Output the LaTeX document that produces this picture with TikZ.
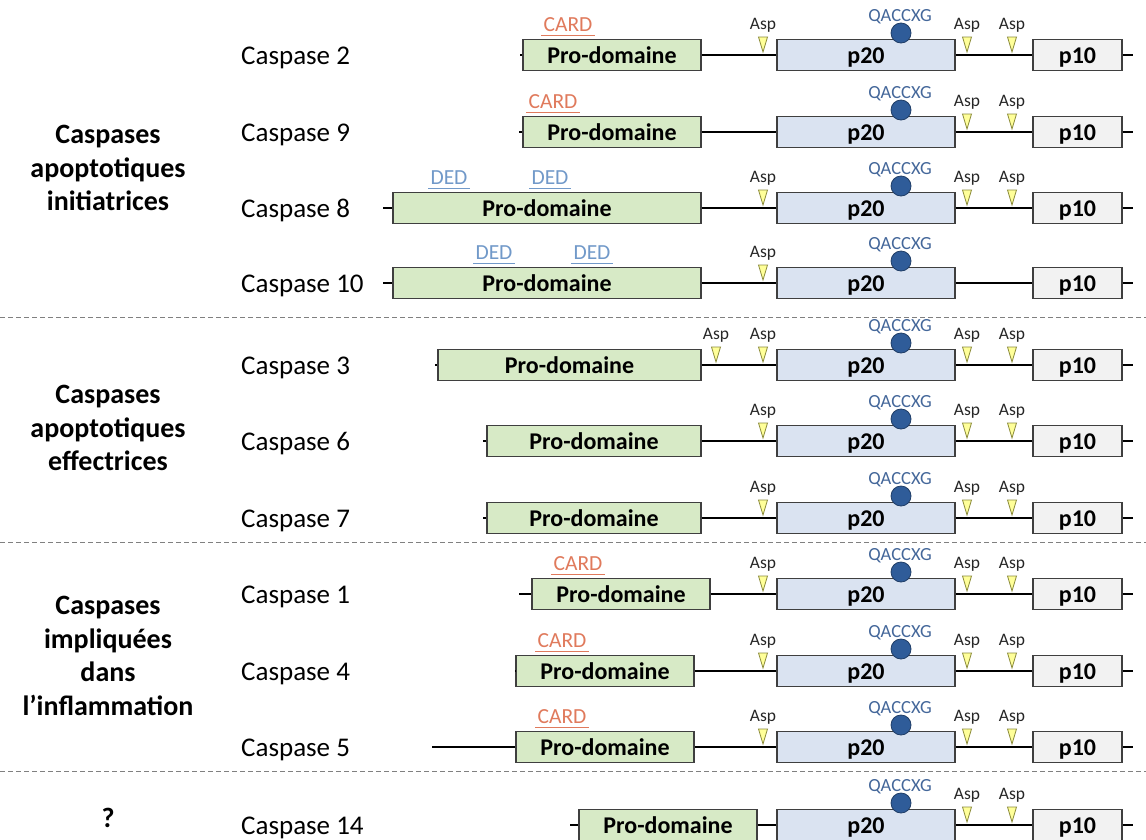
\documentclass[tikz,border=0pt]{standalone}
\usepackage{fontspec}
\setmainfont{Carlito}

\definecolor{progreen}{HTML}{D7EAC6}
\definecolor{pblue}{HTML}{DAE3F1}
\definecolor{pgrey}{HTML}{F2F2F2}
\definecolor{boxline}{HTML}{3F3F3F}
\definecolor{cardorange}{HTML}{E07A5C}
\definecolor{dedblue}{HTML}{7199C9}
\definecolor{sitefill}{HTML}{2F5C99}
\definecolor{sitedraw}{HTML}{1F3D66}
\definecolor{motifblue}{HTML}{44679A}
\definecolor{aspyellow}{HTML}{FFFF99}
\definecolor{aspdraw}{HTML}{8C8C3C}

\tikzset{
  dombox/.style={draw=boxline, line width=1.3pt, minimum height=31pt, inner sep=0pt,
    text height=16pt, text depth=0pt, font=\fontsize{24}{24}\selectfont\bfseries},
  probox/.style={dombox, fill=progreen},
  p20box/.style={dombox, fill=pblue, minimum width=178pt},
  p10box/.style={dombox, fill=pgrey, minimum width=89pt},
  backbone/.style={black, line width=1.8pt},
  caslabel/.style={anchor=base west, inner sep=0pt, font=\fontsize{27}{27}\selectfont},
  grouplabel/.style={align=center, inner sep=0pt, font=\fontsize{28}{33.5}\selectfont\bfseries},
  site/.style={circle, fill=sitefill, draw=sitedraw, line width=0.8pt, minimum size=20pt, inner sep=0pt},
  motif/.style={text=motifblue, inner sep=0pt, font=\fontsize{18.5}{18.5}\selectfont},
  asptext/.style={inner sep=0pt, font=\fontsize{17.5}{17.5}\selectfont, text=black!85},
  domlab/.style={inner xsep=2pt, inner ysep=3pt, text depth=0pt, font=\fontsize{21.5}{21.5}\selectfont},
  sepline/.style={gray, line width=0.9pt, dash pattern=on 5pt off 3pt},
  asp/.pic={
    \draw[fill=aspyellow, draw=aspdraw, line width=0.8pt] (-4.5,-18) -- (4.5,-18) -- (0,-3) -- cycle;
    \node[asptext] (-lab) at (0,-30) {Asp};
  }
}

\begin{document}
\begin{tikzpicture}[x=1pt, y=-1pt]
	\path[use as bounding box, fill=white] (0,0) rectangle (1146,839);

	% group titles
	\node[grouplabel] (g1) at (108,168) {Caspases\\apoptotiques\\initiatrices};
	\node[grouplabel] (g2) at (108,428) {Caspases\\apoptotiques\\effectrices};
	\node[grouplabel] (g3) at (108,656) {Caspases\\impliquées\\dans\\l’inflammation};
	\node[grouplabel] (g4) at (108,818) {?};

	% separators
	\draw[sepline] (0,317) -- (1146,317);
	\draw[sepline] (0,542) -- (1146,542);
	\draw[sepline] (0,771) -- (1146,771);

	% p20 and p10 of every caspase
	\foreach \r/\y in {2/55,9/132,8/208,10/283,3/365,6/441,7/518,1/594,4/671,5/747,14/825}{
		\node[caslabel] (lab\r) at (241,\y+9) {Caspase \r};
		\node[p20box] (pa\r) at (866,\y) {p20};
		\node[p10box] (pb\r) at (1077.5,\y) {p10};
		\coordinate (e\r) at (1133,\y);
		\draw[backbone] (pa\r) -- (pb\r);
		\draw[backbone] (pb\r) -- (e\r);
		\node[site] (cys\r) at (901,\y-22) {};
		\node[motif] (qa\r) at (900,\y-38) {QACCXG};
	}

	% pro-domains
	\foreach \r/\cx/\w/\xs/\y in {2/612/178/520/55, 9/612/178/519/132, 8/547/308/383/208,
		10/547/308/383/283, 3/569.5/263/435/365, 6/594/214/483/441, 7/594/214/483/518,
		1/621/178/519/594, 4/605/178/516/671, 5/605/178/432/747, 14/668/178/570/825}{
		\node[probox, minimum width=\w pt] (pro\r) at (\cx,\y) {Pro-domaine};
		\coordinate (s\r) at (\xs,\y);
		\draw[backbone] (s\r) -- (pro\r);
		\draw[backbone] (pro\r) -- (pa\r);
	}

	% cleavage sites
	\foreach \x/\y [count=\i] in {763/55, 967/55, 1012/55, 967/132, 1012/132,
		763/208, 967/208, 1012/208, 763/283,
		716/365, 763/365, 967/365, 1012/365,
		763/441, 967/441, 1012/441, 763/518, 967/518, 1012/518,
		763/594, 967/594, 1012/594, 763/671, 967/671, 1012/671,
		763/747, 967/747, 1012/747, 967/825, 1012/825}{
		\pic (asp\i) at (\x,\y) {asp};
	}

	% CARD and DED
	\foreach \x/\y/\t/\c [count=\i] in {568/55/CARD/cardorange, 553/132/CARD/cardorange,
		449/208/DED/dedblue, 550/208/DED/dedblue, 494/283/DED/dedblue, 592/283/DED/dedblue,
		578/594/CARD/cardorange, 562/671/CARD/cardorange, 562/747/CARD/cardorange}{
		\node[domlab, text=\c] (dl\i) at (\x,\y-30) {\t};
		\draw[\c, line width=0.8pt] (dl\i.south west) -- (dl\i.south east);
	}

\end{tikzpicture}
\end{document}
